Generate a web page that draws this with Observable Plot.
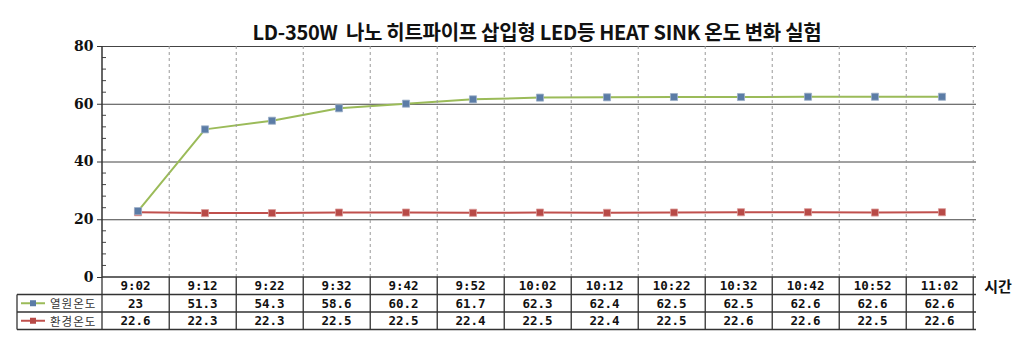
<!DOCTYPE html>
<html>
<head>
<meta charset="utf-8">
<script src="https://cdn.jsdelivr.net/npm/d3@7"></script>
<script src="https://cdn.jsdelivr.net/npm/@observablehq/plot@0.6"></script>
<style>
  html, body { margin: 0; padding: 0; background: #fff; }
  #chart svg { display: block; }
</style>
</head>
<body>
<div id="chart"></div>
<script>
const times = ["9:02","9:12","9:22","9:32","9:42","9:52","10:02","10:12","10:22","10:32","10:42","10:52","11:02"];
const heatSource = [23, 51.3, 54.3, 58.6, 60.2, 61.7, 62.3, 62.4, 62.5, 62.5, 62.6, 62.6, 62.6];
const ambient = [22.6, 22.3, 22.3, 22.5, 22.5, 22.4, 22.5, 22.4, 22.5, 22.6, 22.6, 22.5, 22.6];
const seriesNames = ["열원온도", "환경온도"];
const yTicks = [0, 20, 40, 60, 80];
const yMinorTicks = d3.range(0, 80, 4).filter(v => v % 20 !== 0);
const titleText = "LD-350W  나노 히트파이프 삽입형 LED등 HEAT SINK 온도 변화 실험";
const xLabel = "시간";

const colors = {
  lineA: "#9BBB59", dotA: "#5B7CA6",
  lineB: "#C0504D", dotB: "#B84A47"
};

const rowsA = times.map((t, i) => ({time: t, value: heatSource[i]}));
const rowsB = times.map((t, i) => ({time: t, value: ambient[i]}));

const plot = Plot.plot({
  width: 1024,
  height: 356,
  marginLeft: 102,
  marginRight: 48,
  marginTop: 46,
  marginBottom: 79,
  x: {type: "band", domain: times, padding: 0, axis: null},
  y: {domain: [0, 80], axis: null},
  marks: [
    Plot.ruleY([20, 40, 60, 80], {stroke: "#444", strokeWidth: 1}),
    Plot.axisY({ticks: yTicks, tickSize: 5, tickPadding: 4, fontSize: 14, fontWeight: "bold", label: null,
                fontFamily: "DejaVu Serif", stroke: "#333", fill: "#111"}),
    Plot.line(rowsB, {x: "time", y: "value", stroke: colors.lineB, strokeWidth: 2}),
    Plot.line(rowsA, {x: "time", y: "value", stroke: colors.lineA, strokeWidth: 2}),
    Plot.dot(rowsB, {x: "time", y: "value", symbol: "square", r: 4, fill: colors.dotB, stroke: "#d99a98", strokeWidth: 0.8}),
    Plot.dot(rowsA, {x: "time", y: "value", symbol: "square", r: 4, fill: colors.dotA, stroke: "#9db0c8", strokeWidth: 0.8})
  ]
});

document.getElementById("chart").appendChild(plot);

const svg = d3.select(plot);
const xs = plot.scale("x");
const ys = plot.scale("y");
const x0 = xs.range[0], x1 = xs.range[1];
const bw = (x1 - x0) / times.length;
const off = xs.apply(times[0]) - x0;
const bandStart = t => xs.apply(t) - off;
const bandCenter = t => bandStart(t) + bw / 2;
const yTop = ys.apply(80), yZero = ys.apply(0);
const rowH = 17.5;
const r1 = yZero + rowH, r2 = r1 + rowH, r3 = r2 + rowH;
const leftX = 17;

const g = svg.append("g");

// vertical dashed gridlines at band boundaries
times.forEach(t => {
  const xe = bandStart(t) + bw;
  g.append("line").attr("x1", xe).attr("x2", xe).attr("y1", yTop).attr("y2", yZero)
    .attr("stroke", "#999").attr("stroke-dasharray", "3,3").attr("stroke-width", 1);
});

// minor ticks
yMinorTicks.forEach(v => {
  const yy = ys.apply(v);
  g.append("line").attr("x1", x0).attr("x2", x0 + 4).attr("y1", yy).attr("y2", yy)
    .attr("stroke", "#444").attr("stroke-width", 1);
});

// left axis line
g.append("line").attr("x1", x0).attr("x2", x0).attr("y1", yTop).attr("y2", yZero)
  .attr("stroke", "#333").attr("stroke-width", 1.5);

// table
const tb = svg.append("g").attr("stroke", "#333").attr("stroke-width", 1.3);
tb.append("line").attr("x1", x0).attr("x2", x1).attr("y1", yZero).attr("y2", yZero).attr("stroke-width", 1.6);
[r1, r2, r3].forEach(yy => tb.append("line").attr("x1", leftX).attr("x2", x1).attr("y1", yy).attr("y2", yy));
tb.append("line").attr("x1", leftX).attr("x2", leftX).attr("y1", r1).attr("y2", r3);
tb.append("line").attr("x1", x0).attr("x2", x0).attr("y1", yZero).attr("y2", r3);
times.forEach(t => {
  const xe = bandStart(t) + bw;
  tb.append("line").attr("x1", xe).attr("x2", xe).attr("y1", yZero).attr("y2", r3);
});

const cellFont = "DejaVu Sans Mono";
const addRow = (vals, yc) => {
  times.forEach((t, i) => {
    svg.append("text").attr("x", bandCenter(t)).attr("y", yc).attr("text-anchor", "middle")
      .attr("dominant-baseline", "central").attr("font-family", cellFont).attr("font-weight", "bold")
      .attr("font-size", 12.5).attr("fill", "#111").text(vals[i]);
  });
};
addRow(times, yZero + rowH / 2);
addRow(heatSource.map(String), r1 + rowH / 2);
addRow(ambient.map(String), r2 + rowH / 2);

// legend cells
[[seriesNames[0], colors.lineA, colors.dotA, r1], [seriesNames[1], colors.lineB, colors.dotB, r2]].forEach(([name, lc, dc, ry]) => {
  const yc = ry + rowH / 2;
  svg.append("line").attr("x1", 21).attr("x2", 45).attr("y1", yc).attr("y2", yc).attr("stroke", lc).attr("stroke-width", 2);
  svg.append("rect").attr("x", 30).attr("y", yc - 3).attr("width", 6).attr("height", 6).attr("fill", dc);
  svg.append("text").attr("x", 50).attr("y", yc).attr("text-anchor", "start").attr("dominant-baseline", "central")
    .attr("font-family", "Noto Sans CJK KR").attr("font-size", 11.5).attr("letter-spacing", 1)
    .attr("fill", "#333").text(name);
});

// x label
svg.append("text").attr("x", 998).attr("y", yZero + 8).attr("text-anchor", "middle")
  .attr("dominant-baseline", "central").attr("font-family", "Noto Sans CJK KR").attr("font-weight", "bold")
  .attr("font-size", 15).attr("fill", "#111").text(xLabel);

// title
svg.append("text").attr("x", 537).attr("y", 40).attr("text-anchor", "middle")
  .attr("font-family", "Noto Sans CJK KR").attr("font-weight", "bold").attr("font-size", 20)
  .attr("fill", "#111").attr("letter-spacing", -0.3).text(titleText);
</script>
</body>
</html>
